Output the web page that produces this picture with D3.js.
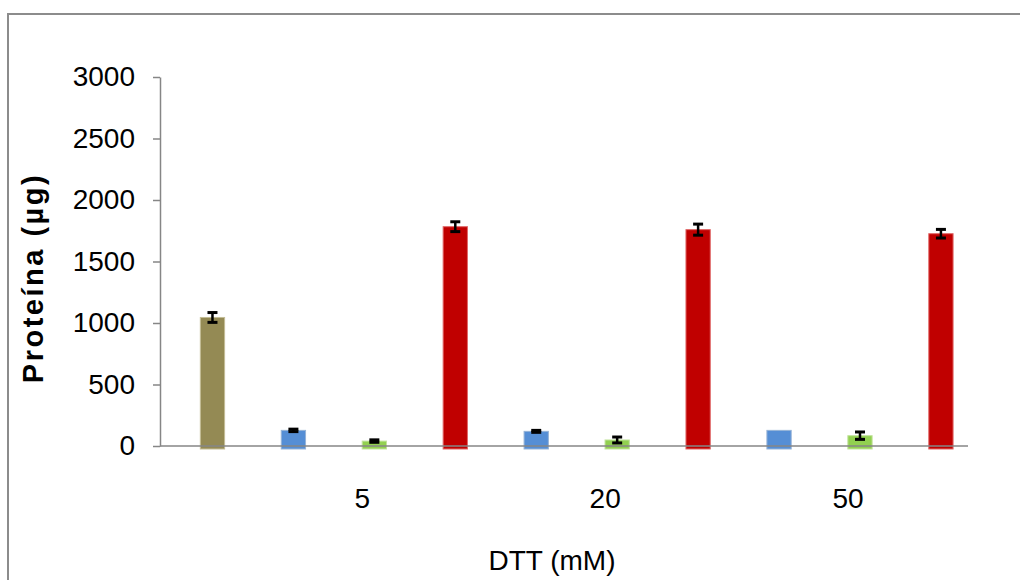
<!DOCTYPE html>
<html>
<head>
<meta charset="utf-8">
<script src="https://cdn.jsdelivr.net/npm/d3@7"></script>
<style>
  body { margin: 0; background: #fff; }
  #chart { width: 1020px; height: 580px; }
  text { font-family: "Liberation Sans", Arial, sans-serif; fill: #000; }
</style>
</head>
<body>
<div id="chart"></div>
<script>

// DTT concentrations (mM) on the x axis
const doses = ["5", "20", "50"];

// control bar (before treatment)
const controlValue = 1045;
const controlError = 40;

// three series per dose
const blueValues = [127, 119, 127];
const blueErrors = [10, 8, 0];
const greenValues = [40, 49, 84];
const greenErrors = [10, 24, 30];
const redValues = [1783, 1759, 1726];
const redErrors = [40, 45, 35];

const yTicks = [0, 500, 1000, 1500, 2000, 2500, 3000];

const colors = {
    control: "#948a54",
    blue: "#558ed5",
    green: "#92d050",
    red: "#c00000"
};
const edge = {
    control: "#c4bd97",
    blue: "#95b3d7",
    green: "#c3e39e",
    red: "#e06666"
};

// flatten into one list of bars, in drawing order
let bars = [{ key: "ctrl", series: "control", value: controlValue, err: controlError }];
doses.forEach(function (d, i) {
    bars.push({ key: d + "-blue", dose: d, series: "blue", value: blueValues[i], err: blueErrors[i] });
    bars.push({ key: d + "-green", dose: d, series: "green", value: greenValues[i], err: greenErrors[i] });
    bars.push({ key: d + "-red", dose: d, series: "red", value: redValues[i], err: redErrors[i] });
});

var width = 1020;
var height = 580;
var svg = d3.select("#chart")
    .append("svg")
    .attr("width", width)
    .attr("height", height);

// outer frame (only top and left are visible in the picture)
svg.append("rect")
    .attr("x", 8)
    .attr("y", 14)
    .attr("width", 1100)
    .attr("height", 700)
    .attr("fill", "none")
    .attr("stroke", "#8c8c8c")
    .attr("stroke-width", 2);

var plotLeft = 160, plotRight = 968;

var yScale = d3.scaleLinear()
    .domain([0, 3000])
    .range([446, 77]);

var xScale = d3.scaleBand()
    .domain(bars.map(d => d.key))
    .range([172, 981.4])
    .paddingInner(0.7)
    .paddingOuter(0.35);

/*
Y AXIS
*/
const yAxis = svg.append("g")
    .attr("transform", `translate(${plotLeft},0)`)
    .call(d3.axisLeft(yScale).tickValues(yTicks).tickFormat(d3.format("d"))
        .tickSize(7).tickPadding(18).tickSizeOuter(0));
yAxis.select(".domain").attr("stroke", "#868686").attr("stroke-width", 1.5);
yAxis.selectAll(".tick line").attr("stroke", "#868686").attr("stroke-width", 1.5);
yAxis.selectAll("text")
    .attr("font-size", "28px")
    .attr("font-family", "'Liberation Sans', Arial, sans-serif")
    .attr("fill", "#000");

/*
BARS
*/
svg.selectAll("rect.bar")
    .data(bars)
    .join("rect")
    .attr("class", "bar")
    .attr("x", d => xScale(d.key))
    .attr("y", d => yScale(d.value))
    .attr("width", xScale.bandwidth())
    .attr("height", d => yScale(0) - yScale(d.value) + 3)
    .attr("fill", d => colors[d.series])
    .attr("stroke", d => edge[d.series])
    .attr("stroke-width", 1);

// x axis line, drawn over the bar bottoms
svg.append("line")
    .attr("x1", plotLeft)
    .attr("x2", plotRight)
    .attr("y1", yScale(0))
    .attr("y2", yScale(0))
    .attr("stroke", "#868686")
    .attr("stroke-width", 1.5);

/*
ERROR BARS
*/
var cap = 5;
var eb = svg.selectAll("g.err")
    .data(bars.filter(d => d.err > 0))
    .join("g")
    .attr("class", "err")
    .attr("transform", d => `translate(${xScale(d.key) + xScale.bandwidth() / 2},0)`);
eb.append("line")
    .attr("y1", d => yScale(d.value + d.err))
    .attr("y2", d => yScale(d.value - d.err))
    .attr("stroke", "#000").attr("stroke-width", 2.5);
eb.append("line")
    .attr("x1", -cap).attr("x2", cap)
    .attr("y1", d => yScale(d.value + d.err))
    .attr("y2", d => yScale(d.value + d.err))
    .attr("stroke", "#000").attr("stroke-width", 3);
eb.append("line")
    .attr("x1", -cap).attr("x2", cap)
    .attr("y1", d => yScale(d.value - d.err))
    .attr("y2", d => yScale(d.value - d.err))
    .attr("stroke", "#000").attr("stroke-width", 3);

/*
X LABELS (one per dose, under the middle bar of each group)
*/
svg.selectAll("text.dose")
    .data(doses)
    .join("text")
    .attr("class", "dose")
    .attr("x", d => xScale(d + "-green") + xScale.bandwidth() / 2 - 12)
    .attr("y", 508)
    .attr("text-anchor", "middle")
    .attr("font-size", "28px")
    .text(d => d);

/*
AXIS TITLES
*/
svg.append("text")
    .attr("x", 552)
    .attr("y", 570)
    .attr("text-anchor", "middle")
    .attr("font-size", "28px")
    .text("DTT (mM)");

svg.append("text")
    .attr("transform", "translate(43,278) rotate(-90)")
    .attr("text-anchor", "middle")
    .attr("font-size", "29px")
    .attr("font-weight", "bold")
    .attr("letter-spacing", "2.5px")
    .text("Proteína (µg)");

</script>
</body>
</html>
